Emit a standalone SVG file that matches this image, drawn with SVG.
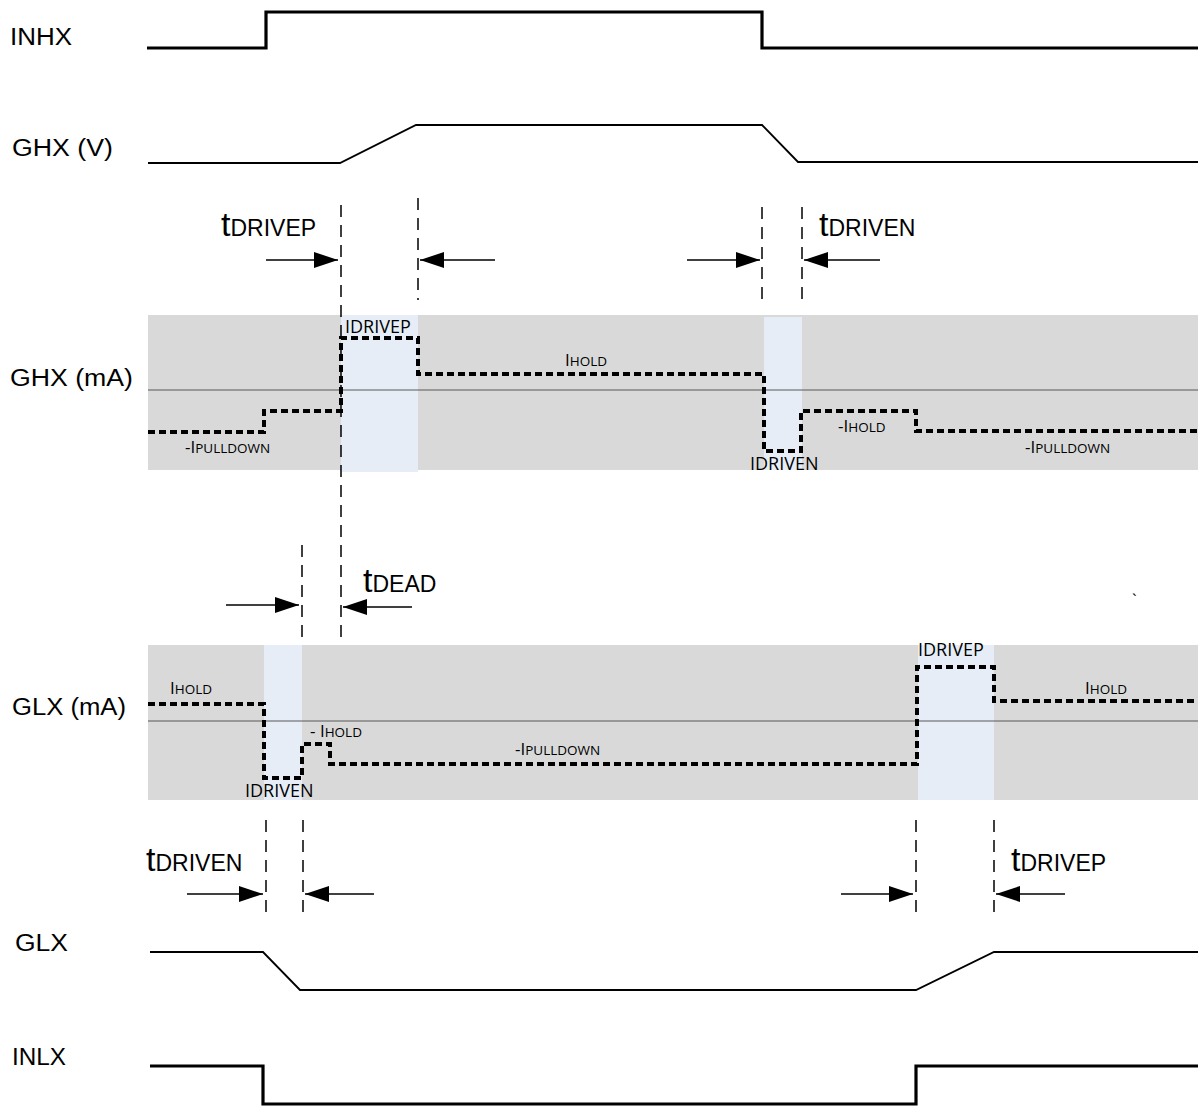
<svg xmlns="http://www.w3.org/2000/svg" width="1198" height="1106" viewBox="0 0 1198 1106">
<defs>
<marker id="ah" viewBox="0 0 24 16" refX="24" refY="8" markerWidth="24" markerHeight="16" markerUnits="userSpaceOnUse" orient="auto">
<path d="M0,0 L24,8 L0,16 Z" fill="#000"/>
</marker>
</defs>
<style>
.lbl{font-family:"Liberation Sans",Arial,sans-serif;font-size:23px;fill:#000}
.tb{font-family:"Liberation Sans",Arial,sans-serif;font-size:34px;fill:#000}
.ts{font-size:23px}
.sm{font-family:"Open Sans","Liberation Sans",sans-serif;font-size:17px;fill:#000}
.bg{font-size:18px}
.sc{font-size:13.5px}
.sig{fill:none;stroke:#000;stroke-width:1.8}
.sigb{fill:none;stroke:#000;stroke-width:3.2}
.trace{fill:none;stroke:#000;stroke-width:4;stroke-dasharray:7 4}
.dash{fill:none;stroke:#000;stroke-width:1.5;stroke-dasharray:12 8}
.arr{fill:none;stroke:#000;stroke-width:1.5;marker-end:url(#ah)}
.band{fill:#d9d9d9}
.win{fill:#e6edf7}
.axis{stroke:#595959;stroke-width:1.2}
</style>

<g id="labels">
<text class="lbl" x="10" y="45" textLength="62" lengthAdjust="spacingAndGlyphs">INHX</text>
<text class="lbl" x="12" y="156" textLength="101" lengthAdjust="spacingAndGlyphs">GHX (V)</text>
<text class="lbl" x="10" y="386" textLength="123" lengthAdjust="spacingAndGlyphs">GHX (mA)</text>
<text class="lbl" x="12" y="715" textLength="114" lengthAdjust="spacingAndGlyphs">GLX (mA)</text>
<text class="lbl" x="15" y="951" textLength="53" lengthAdjust="spacingAndGlyphs">GLX</text>
<text class="lbl" x="12" y="1065" textLength="54" lengthAdjust="spacingAndGlyphs">INLX</text>
</g>

<g id="inhx"><polyline class="sigb" points="147,48 266,48 266,12 762,12 762,48 1198,48"/></g>
<g id="ghxv"><polyline class="sig" points="148,163 340,163 416,125 762,125 798,162 1198,162"/></g>

<g id="ghx-ma">
<rect class="band" x="148" y="315" width="1050" height="155"/>
<rect class="win" x="341" y="315" width="77" height="157"/>
<rect class="win" x="764" y="317" width="38" height="153"/>
<line class="axis" x1="148" y1="390" x2="1198" y2="390"/>
<polyline class="trace" points="148,432 264,432 264,411 341,411 341,338 418,338 418,374 764,374 764,451 801,451 801,411 916,411 916,431 1198,431"/>
<text class="sm bg" x="345" y="333">IDRIVEP</text>
<text class="sm" x="565" y="366">I<tspan class="sc">HOLD</tspan></text>
<text class="sm" x="185" y="453">-I<tspan class="sc">PULLDOWN</tspan></text>
<text class="sm bg" x="750" y="470">IDRIVEN</text>
<text class="sm" x="838" y="432">-I<tspan class="sc">HOLD</tspan></text>
<text class="sm" x="1025" y="453">-I<tspan class="sc">PULLDOWN</tspan></text>
</g>

<g id="glx-ma">
<rect class="band" x="148" y="645" width="1050" height="155"/>
<rect class="win" x="264" y="645" width="38" height="155"/>
<rect class="win" x="918" y="645" width="76" height="155"/>
<line class="axis" x1="148" y1="721" x2="1198" y2="721"/>
<polyline class="trace" points="148,704 264,704 264,778 302,778 302,744 330,744 330,764 917,764 917,667 994,667 994,701 1198,701"/>
<text class="sm" x="170" y="694">I<tspan class="sc">HOLD</tspan></text>
<text class="sm" x="310" y="737">- I<tspan class="sc">HOLD</tspan></text>
<text class="sm" x="515" y="755">-I<tspan class="sc">PULLDOWN</tspan></text>
<text class="sm bg" x="245" y="797">IDRIVEN</text>
<text class="sm bg" x="918" y="656">IDRIVEP</text>
<text class="sm" x="1085" y="694">I<tspan class="sc">HOLD</tspan></text>
<text class="sm" x="1132" y="606">`</text>
</g>

<g id="glx"><polyline class="sig" points="150,952 263,952 300,990 916,990 994,952 1198,952"/></g>
<g id="inlx"><polyline class="sigb" points="150,1066 263,1066 263,1104 916,1104 916,1066 1198,1066"/></g>

<g id="timing-labels">
<text class="tb" x="221" y="236">t<tspan class="ts">DRIVEP</tspan></text>
<text class="tb" x="819" y="236">t<tspan class="ts">DRIVEN</tspan></text>
<text class="tb" x="363" y="592">t<tspan class="ts">DEAD</tspan></text>
<text class="tb" x="146" y="871">t<tspan class="ts">DRIVEN</tspan></text>
<text class="tb" x="1011" y="871">t<tspan class="ts">DRIVEP</tspan></text>
</g>

<g id="connectors">
<line class="dash" x1="341" y1="205" x2="341" y2="645"/>
<line class="dash" x1="418" y1="198" x2="418" y2="300"/>
<line class="dash" x1="762" y1="207" x2="762" y2="300"/>
<line class="dash" x1="802" y1="207" x2="802" y2="300"/>
<line class="dash" x1="302" y1="545" x2="302" y2="640"/>
<line class="dash" x1="266" y1="820" x2="266" y2="916"/>
<line class="dash" x1="303" y1="820" x2="303" y2="916"/>
<line class="dash" x1="916" y1="820" x2="916" y2="916"/>
<line class="dash" x1="994" y1="820" x2="994" y2="916"/>
<line class="arr" x1="266" y1="260" x2="338" y2="260"/>
<line class="arr" x1="495" y1="260" x2="420" y2="260"/>
<line class="arr" x1="687" y1="260" x2="760" y2="260"/>
<line class="arr" x1="880" y1="260" x2="804" y2="260"/>
<line class="arr" x1="226" y1="605" x2="299" y2="605"/>
<line class="arr" x1="412" y1="607" x2="343" y2="607"/>
<line class="arr" x1="187" y1="894" x2="263" y2="894"/>
<line class="arr" x1="374" y1="894" x2="305" y2="894"/>
<line class="arr" x1="841" y1="894" x2="913" y2="894"/>
<line class="arr" x1="1065" y1="894" x2="996" y2="894"/>
</g>
</svg>
